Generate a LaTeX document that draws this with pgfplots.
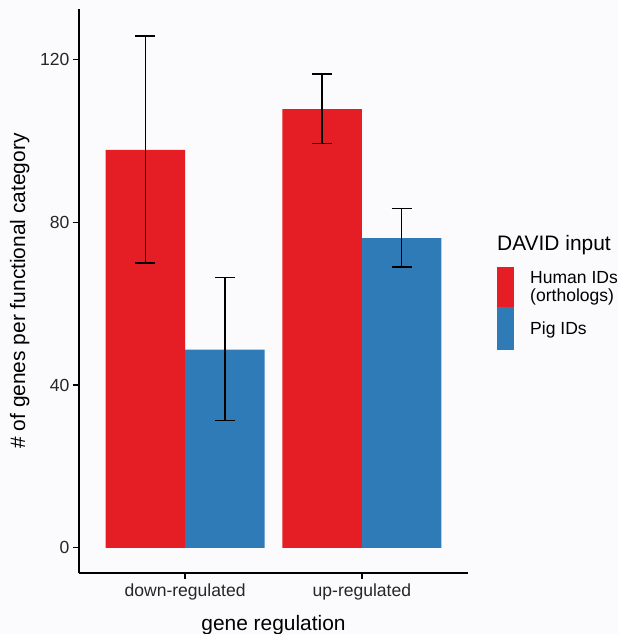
\documentclass[border=0pt]{standalone}
\usepackage{pgfplots}
\pgfplotsset{compat=1.18}
\usepackage{pgfplotstable}
\usepackage{fontspec}
\setmainfont{Liberation Sans}
\definecolor{hred}{HTML}{E41E24}
\definecolor{pblue}{HTML}{2E7BB7}
\definecolor{bg}{HTML}{FBFBFD}
\pgfplotstableread{
x y lo hi
1 97.8 27.8 28.0
2 107.8 8.5 8.6
}\human
\pgfplotstableread{
x y lo hi
1 48.7 17.5 17.7
2 76.1 7.1 7.3
}\pig
\begin{document}
\begin{tikzpicture}
\fill[bg] (0,0) rectangle (618bp,634bp);
\path[use as bounding box] (0,0) rectangle (618bp,634bp);
\begin{axis}[
  at={(79bp,61bp)}, anchor=south west,
  width=389bp, height=564bp, scale only axis,
  xmin=0.4, xmax=2.6, ymin=-6.2, ymax=132.4,
  axis lines=left, axis line style={-, line width=1.3bp},
  tick style={line width=1.2bp, black}, major tick length=6bp, tick align=outside,
  xtick={1,2}, xticklabels={down-regulated, up-regulated},
  ytick={0,40,80,120},
  /pgf/number format/assume math mode=true,
  ticklabel style={font=\fontsize{17.6}{20}\selectfont, text=black!85},
  xticklabel style={yshift=-1bp},
  xlabel={gene regulation}, ylabel={\# of genes per functional category},
  label style={font=\fontsize{21}{24}\selectfont},
  xlabel style={yshift=-9bp},
  ylabel style={yshift=4bp},
  ybar, bar width=0.45,
  clip=false,
]
\addplot[fill=hred, draw=none, bar shift=-0.225,
  error bars/.cd, y dir=both, y explicit,
  error bar style={draw=black, line width=1.3bp},
  error mark options={rotate=90, mark size=10bp, draw=black, line width=1.3bp}]
  table[x=x, y=y, y error plus=hi, y error minus=lo]{\human};
\addplot[fill=pblue, draw=none, bar shift=0.225,
  error bars/.cd, y dir=both, y explicit,
  error bar style={draw=black, line width=1.3bp},
  error mark options={rotate=90, mark size=10bp, draw=black, line width=1.3bp}]
  table[x=x, y=y, y error plus=hi, y error minus=lo]{\pig};
\end{axis}
% legend
\node[anchor=west, inner xsep=0pt, font=\fontsize{21}{24}\selectfont] at (497bp,389bp) {DAVID input};
\fill[hred] (497bp,327bp) rectangle (514bp,367bp);
\fill[pblue] (497bp,284bp) rectangle (514bp,327bp);
\node[anchor=west, inner xsep=0pt, align=left, font=\fontsize{17.6}{18}\selectfont] at (530bp,346bp) {Human IDs\\(orthologs)};
\node[anchor=west, inner xsep=0pt, font=\fontsize{17.6}{20}\selectfont] at (530bp,304bp) {Pig IDs};
\end{tikzpicture}
\end{document}
